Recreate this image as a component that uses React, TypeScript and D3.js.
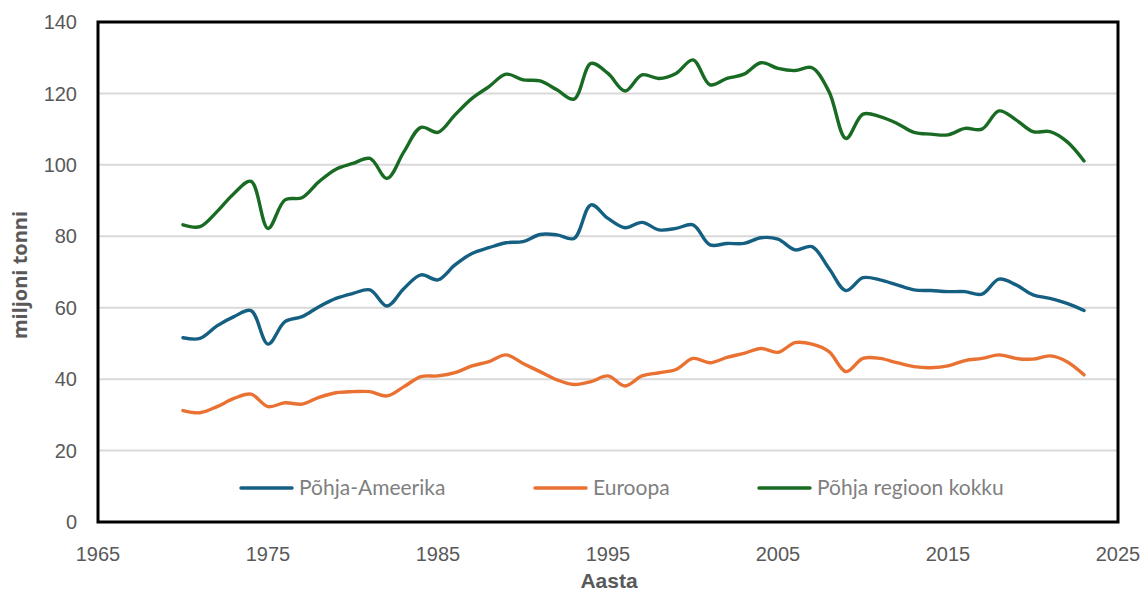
import React, { useRef, useEffect } from 'react';
import * as d3 from 'd3';

// values (million tonnes)
const years = d3.range(1970, 2024);
const pohjaAmeerika = [
  51.6, 51.4, 54.9, 57.5, 59.2, 49.8, 56.1, 57.5, 60.3, 62.6,
  64.0, 65.0, 60.5, 65.4, 69.2, 67.8, 72.0, 75.2, 76.8, 78.2,
  78.5, 80.5, 80.4, 79.4, 88.8, 85.0, 82.4, 83.9, 81.8, 82.2,
  83.2, 77.6, 78.0, 78.0, 79.6, 79.2, 76.2, 77.1, 71.0, 64.8,
  68.4, 67.8, 66.4, 65.0, 64.8, 64.5, 64.5, 63.8, 68.0, 66.4,
  63.6, 62.6, 61.2, 59.2,
];
const euroopa = [
  31.2, 30.6, 32.3, 34.6, 35.8, 32.3, 33.4, 33.0, 34.9, 36.2,
  36.5, 36.5, 35.3, 37.9, 40.7, 40.9, 41.8, 43.7, 44.9, 46.8,
  44.4, 42.1, 39.8, 38.5, 39.3, 40.9, 38.1, 40.9, 41.8, 42.7,
  45.8, 44.6, 46.1, 47.2, 48.6, 47.5, 50.2, 49.8, 47.7, 42.1,
  45.8, 45.8, 44.6, 43.5, 43.2, 43.7, 45.2, 45.8, 46.8, 45.8,
  45.6, 46.5, 44.9, 41.2,
];
const pohjaKokku = [
  83.2, 82.7, 86.9, 92.0, 95.4, 82.2, 90.2, 90.8, 95.3, 98.8,
  100.4, 101.8, 96.2, 103.7, 110.5, 109.1, 114.0, 118.6, 121.9, 125.4,
  123.8, 123.5, 121.0, 118.4, 128.4, 125.6, 120.7, 125.2, 124.2, 125.6,
  129.4, 122.4, 124.2, 125.4, 128.6, 127.0, 126.4, 127.2, 120.5, 107.4,
  114.2, 113.5, 111.6, 109.1, 108.6, 108.4, 110.2, 110.0, 115.1, 112.6,
  109.3, 109.3, 106.5, 101.1,
];
const seriesNames = ['Põhja-Ameerika', 'Euroopa', 'Põhja regioon kokku'];
const seriesColors = ['#156082', '#E97132', '#196B24'];
const xTicks = [1965, 1975, 1985, 1995, 2005, 2015, 2025];
const yTicks = [0, 20, 40, 60, 80, 100, 120, 140];

const App = () => {
  const ref = useRef<SVGSVGElement>(null);

  useEffect(() => {
    const width = 1146;
    const height = 592;
    const m = { left: 98, right: 28, top: 22, bottom: 70 };
    const svg = d3.select(ref.current);
    svg.selectAll('*').remove();
    svg.attr('width', width).attr('height', height);

    const x = d3.scaleLinear().domain([1965, 2025]).range([m.left, width - m.right]);
    const y = d3.scaleLinear().domain([0, 140]).range([height - m.bottom, m.top]);
    const tickFont = '"Liberation Sans", Arial, sans-serif';

    // gridlines
    svg.append('g')
      .selectAll('line')
      .data(yTicks)
      .enter()
      .append('line')
      .attr('x1', x(1965))
      .attr('x2', x(2025))
      .attr('y1', (d) => y(d))
      .attr('y2', (d) => y(d))
      .attr('stroke', '#d9d9d9')
      .attr('stroke-width', 2);

    // y tick labels
    svg.append('g')
      .selectAll('text')
      .data(yTicks)
      .enter()
      .append('text')
      .attr('x', 77)
      .attr('y', (d) => y(d))
      .attr('dy', '0.36em')
      .attr('text-anchor', 'end')
      .style('font-family', tickFont)
      .style('font-size', '20px')
      .attr('fill', '#595959')
      .text((d) => d);

    // x tick labels
    svg.append('g')
      .selectAll('text')
      .data(xTicks)
      .enter()
      .append('text')
      .attr('x', (d) => x(d))
      .attr('y', 561)
      .attr('text-anchor', 'middle')
      .style('font-family', tickFont)
      .style('font-size', '20px')
      .attr('fill', '#595959')
      .text((d) => d);

    svg.append('text')
      .attr('x', 609)
      .attr('y', 588)
      .attr('text-anchor', 'middle')
      .style('font-family', tickFont)
      .style('font-size', '21px')
      .style('font-weight', 'bold')
      .attr('fill', '#595959')
      .text('Aasta');

    svg.append('text')
      .attr('transform', `translate(27,${y(70) + 3}) rotate(-90)`)
      .attr('text-anchor', 'middle')
      .style('font-family', '"Open Sans", sans-serif')
      .style('font-size', '20px')
      .style('font-weight', 'bold')
      .attr('fill', '#595959')
      .text('miljoni tonni');

    // lines
    const allSeries = [pohjaAmeerika, euroopa, pohjaKokku];
    const line = d3.line<number>()
      .x((d, i) => x(years[i]))
      .y((d) => y(d))
      .curve(d3.curveCatmullRom.alpha(0.5));

    allSeries.forEach((s, i) => {
      svg.append('path')
        .datum(s)
        .attr('d', line)
        .attr('fill', 'none')
        .attr('stroke', seriesColors[i])
        .attr('stroke-width', 3.4)
        .attr('stroke-linecap', 'round');
    });

    // legend
    const legendX = [241, 535, 759];
    const legend = svg.append('g')
      .selectAll('g')
      .data(seriesNames)
      .enter()
      .append('g')
      .attr('transform', (d, i) => `translate(${legendX[i]},488)`);
    legend.append('line')
      .attr('x1', 0)
      .attr('x2', 51)
      .attr('stroke', (d, i) => seriesColors[i])
      .attr('stroke-width', 3.4)
      .attr('stroke-linecap', 'round');
    legend.append('text')
      .attr('x', 58)
      .attr('dy', '0.35em')
      .style('font-family', 'Lato, sans-serif')
      .style('font-size', '21px')
      .attr('fill', '#7f7f7f')
      .text((d) => d);

    // frame
    svg.append('rect')
      .attr('x', x(1965))
      .attr('y', y(140))
      .attr('width', x(2025) - x(1965))
      .attr('height', y(0) - y(140))
      .attr('fill', 'none')
      .attr('stroke', '#000')
      .attr('stroke-width', 3);
  }, []);

  return <svg ref={ref} style={{ display: 'block', position: 'absolute', left: 0, top: 0 }}></svg>;
};

export default App;
